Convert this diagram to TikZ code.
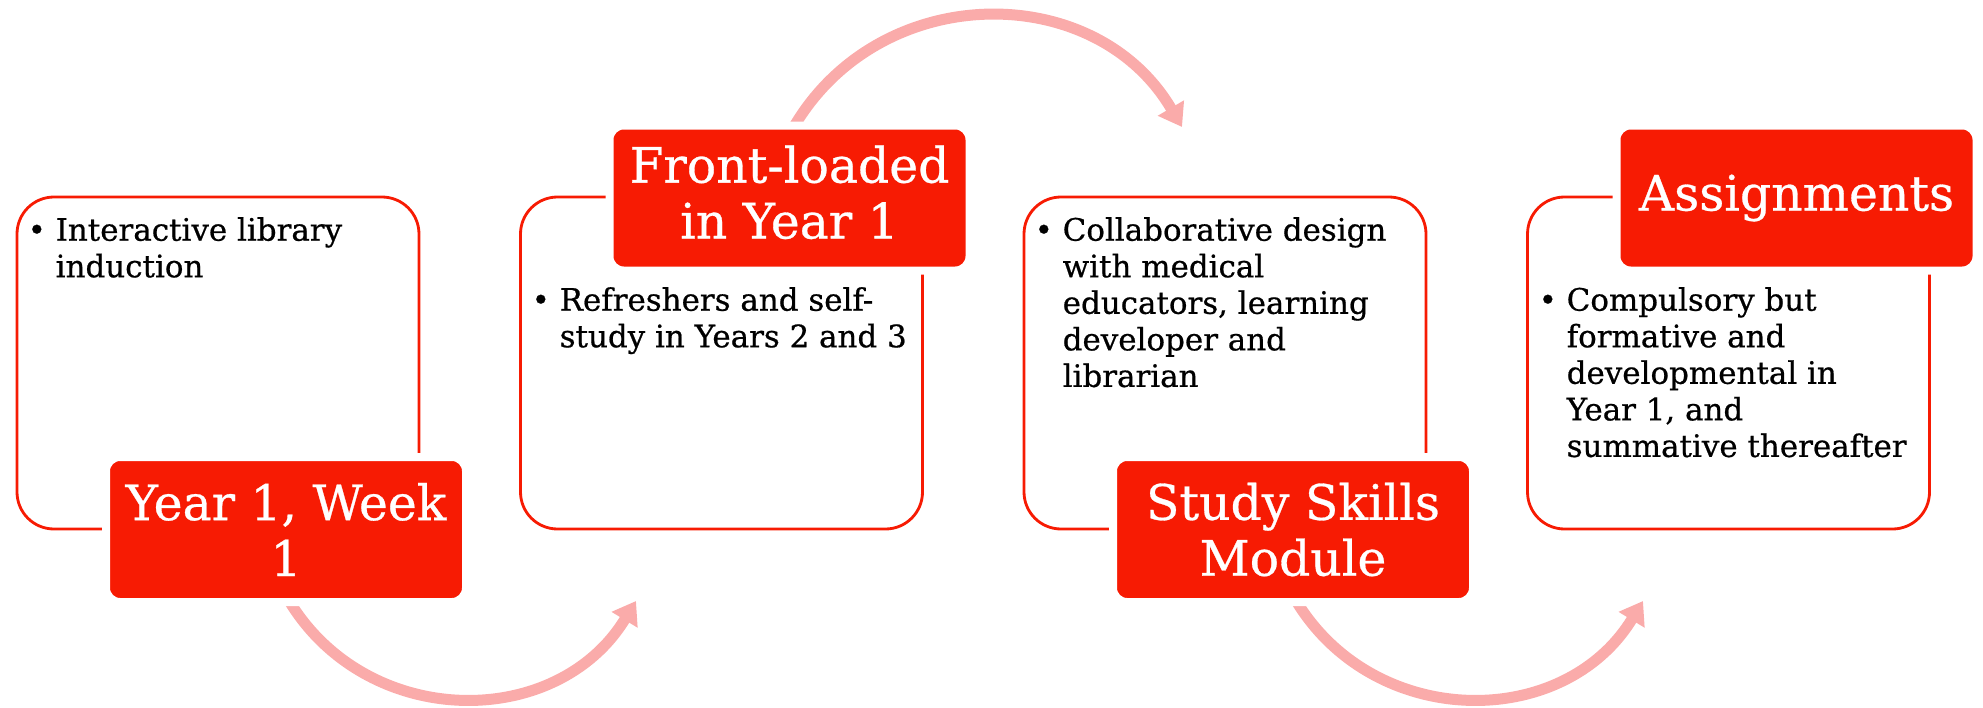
\documentclass[tikz,border=0pt]{standalone}
\usepackage{fontspec}
\setmainfont{DejaVu Serif}[FakeBold=0.6]
\usepackage{tikz}
\usetikzlibrary{arrows.meta}
\definecolor{boxred}{RGB}{247,27,3}
\definecolor{arrowpink}{RGB}{250,171,170}

\newcommand\panelfont{\fontsize{8.8pt}{10.4pt}\selectfont}
\newcommand\tagfont{\fontsize{13.9pt}{15.9pt}\selectfont}
\newcommand\itm{\strut\makebox[0.28cm][l]{\textbullet}}
\newcommand\cont{\hspace*{0.28cm}}

\tikzset{
  panel/.style={draw=boxred, line width=0.8pt, fill=white, rounded corners=0.37cm,
    minimum width=4.02cm, minimum height=3.32cm},
  tag/.style={fill=boxred, draw=white, line width=0.08cm, rounded corners=0.14cm,
    minimum width=3.60cm, minimum height=1.45cm, text=white, align=center, font=\tagfont},
  bullets/.style={anchor=north west, align=left, inner sep=0pt, font=\panelfont},
  flow/.style={draw=arrowpink, line width=0.11cm, -{Triangle[length=0.22cm,width=0.29cm]}}
}

\begin{document}
\begin{tikzpicture}
  \useasboundingbox (0,0) rectangle (19.83,-7.07);

  % Outlined panels
  \node[panel] (p1) at (2.18,-3.63) {};
  \node[panel] (p2) at (7.215,-3.63) {};
  \node[panel] (p3) at (12.25,-3.63) {};
  \node[panel] (p4) at (17.285,-3.63) {};

  % Bullet text
  \node[bullets] (b1) at (0.27,-2.144) {\itm Interactive library\\\cont induction};
  \node[bullets] (b2) at (5.31,-2.844) {\itm Refreshers and self-\\\cont study in Years 2 and 3};
  \node[bullets] (b3) at (10.34,-2.144) {\itm Collaborative design\\\cont with medical\\\cont educators, learning\\\cont developer and\\\cont librarian};
  \node[bullets] (b4) at (15.38,-2.844) {\itm Compulsory but\\\cont formative and\\\cont developmental in\\\cont Year 1, and\\\cont summative thereafter};

  % Curved arrows
  \coordinate (a1s) at (2.88,-5.99);
  \coordinate (a1e) at (6.36,-6.01);
  \coordinate (a2s) at (7.92,-1.30);
  \coordinate (a2e) at (11.82,-1.27);
  \coordinate (a3s) at (12.95,-5.99);
  \coordinate (a3e) at (16.43,-6.01);
  \draw[flow] (a1s) to[bend right=59, looseness=1.12] (a1e);
  \draw[flow] (a2s) to[bend left=60, looseness=1.13] (a2e);
  \draw[flow] (a3s) to[bend right=59, looseness=1.12] (a3e);

  % Red tags
  \node[tag] (t1) at (2.86,-5.295) {Year 1, Week\\1};
  \node[tag, text depth=0.12cm] (t2) at (7.895,-1.98) {Front-loaded\\in Year 1};
  \node[tag] (t3) at (12.93,-5.295) {Study Skills\\Module};
  \node[tag] (t4) at (17.965,-1.98) {Assignments};
\end{tikzpicture}
\end{document}
